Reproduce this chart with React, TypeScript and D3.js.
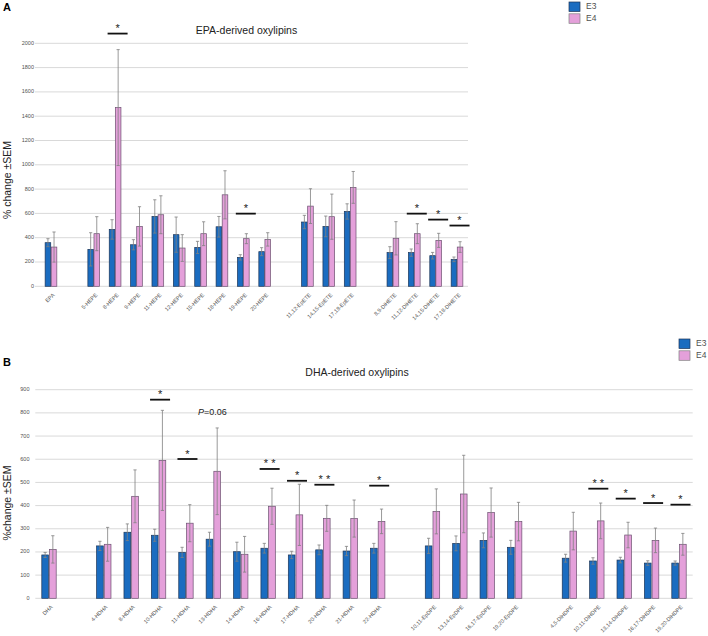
import React from "react";
import * as d3 from "d3";

// ---------- Panel A data (EPA-derived) ----------
const epaCategories = ["EPA", "", "5-HEPE", "8-HEPE", "9-HEPE", "11-HEPE", "12-HEPE", "15-HEPE", "18-HEPE", "19-HEPE", "20-HEPE", "", "11,12-EpETE", "14,15-EpETE", "17,18-EpETE", "", "8,9-DiHETE", "11,12-DiHETE", "14,15-DiHETE", "17,18-DiHETE"];
const epaE3 = [359, null, 304, 468, 342, 575, 425, 320, 490, 238, 285, null, 529, 493, 616, null, 277, 277, 252, 222];
const epaE3Sem = [33, null, 137, 80, 42, 137, 145, 50, 85, 22, 33, null, 55, 85, 63, null, 49, 30, 27, 19];
const epaE4 = [323, null, 433, 1471, 493, 589, 315, 433, 753, 392, 386, null, 660, 573, 814, null, 395, 433, 378, 323];
const epaE4Sem = [124, null, 140, 477, 162, 156, 110, 98, 198, 41, 55, null, 143, 186, 131, null, 137, 82, 58, 44];
const epaTicks = [0, 200, 400, 600, 800, 1000, 1200, 1400, 1600, 1800, 2000];
const epaSig = [
  { cat: "8-HEPE", level: 2080, label: "*" },
  { cat: "19-HEPE", level: 598, label: "*" },
  { cat: "11,12-DiHETE", level: 598, label: "*" },
  { cat: "14,15-DiHETE", level: 549, label: "*" },
  { cat: "17,18-DiHETE", level: 500, label: "*" },
];

// ---------- Panel B data (DHA-derived) ----------
const dhaCategories = ["DHA", "", "4-HDHA", "8-HDHA", "10-HDHA", "11-HDHA", "13-HDHA", "14-HDHA", "16-HDHA", "17-HDHA", "20-HDHA", "21-HDHA", "22-HDHA", "", "10,11-EpDPE", "13,14-EpDPE", "16,17-EpDPE", "19,20-EpDPE", "", "4,5-DiHDPE", "10,11-DiHDPE", "13,14-DiHDPE", "16,17-DiHDPE", "19,20-DiHDPE"];
const dhaE3 = [187, null, 226, 285, 272, 198, 255, 201, 216, 187, 209, 204, 216, null, 226, 237, 250, 220, null, 173, 161, 165, 152, 152];
const dhaE3Sem = [11, null, 20, 36, 26, 22, 30, 41, 21, 16, 21, 20, 21, null, 33, 32, 32, 30, null, 17, 14, 12, 10, 9];
const dhaE4 = [211, null, 233, 440, 595, 324, 548, 190, 397, 360, 345, 344, 332, null, 375, 450, 370, 331, null, 290, 334, 273, 250, 233];
const dhaE4Sem = [59, null, 73, 114, 216, 80, 187, 77, 78, 132, 56, 80, 53, null, 97, 167, 106, 83, null, 81, 77, 55, 53, 47];
const dhaTicks = [0, 100, 200, 300, 400, 500, 600, 700, 800, 900];
const dhaSig = [
  { cat: "10-HDHA", level: 857, label: "*" },
  { cat: "11-HDHA", level: 601, label: "*" },
  { cat: "16-HDHA", level: 558, label: "**" },
  { cat: "17-HDHA", level: 507, label: "*" },
  { cat: "20-HDHA", level: 490, label: "**" },
  { cat: "22-HDHA", level: 486, label: "*" },
  { cat: "10,11-DiHDPE", level: 473, label: "**" },
  { cat: "13,14-DiHDPE", level: 430, label: "*" },
  { cat: "16,17-DiHDPE", level: 411, label: "*" },
  { cat: "19,20-DiHDPE", level: 404, label: "*" },
];
const dhaNote = { cat: "13-HDHA", level: 800, text: "=0.06" };

const seriesNames = ["E3", "E4"];

const BLUE = "#1A6CC0";
const BLUE_STROKE = "#1d3557";
const PINK = "#E4A0DA";
const PINK_STROKE = "#6b5070";
const GRID = "#d9d9d9";
const TXT = "#505050";
const FONT = "Liberation Sans, Arial, sans-serif";

type PanelProps = {
  letter: string;
  letterY: number;
  title: string;
  titleX: number;
  titleY: number;
  yTitle: string;
  yTitleY: number;
  categories: string[];
  e3: (number | null)[];
  e3Sem: (number | null)[];
  e4: (number | null)[];
  e4Sem: (number | null)[];
  ticks: number[];
  yDomain: [number, number];
  yRange: [number, number];
  xRange: [number, number];
  gridX: [number, number];
  tickLabelX: number;
  barW: number;
  barGap: number;
  sig: { cat: string; level: number; label: string }[];
  sigDx: number;
  legendX: number;
  legendY: number;
};

function Panel(p: PanelProps) {
  const idx = p.categories.map((_, i) => String(i));
  const x = d3.scaleBand<string>().domain(idx).range(p.xRange).padding(0);
  const y = d3.scaleLinear().domain(p.yDomain).range(p.yRange);
  const cx = (i: number) => (x(String(i)) as number) + x.bandwidth() / 2;
  const y0 = y(0);
  const cap = 1.6;

  const errBar = (xc: number, v: number, s: number, key: string) => (
    <g key={key} stroke="#808080" strokeWidth={0.8}>
      <line x1={xc} x2={xc} y1={y(v - s)} y2={y(v + s)} />
      <line x1={xc - cap} x2={xc + cap} y1={y(v + s)} y2={y(v + s)} />
      <line x1={xc - cap} x2={xc + cap} y1={y(v - s)} y2={y(v - s)} />
    </g>
  );

  return (
    <g fontFamily={FONT}>
      <text x={3} y={p.letterY} fontSize={11} fontWeight="bold" fill="#000">{p.letter}</text>
      <text x={p.titleX} y={p.titleY} fontSize={10.5} fill="#222" textAnchor="middle" dominantBaseline="middle">{p.title}</text>
      <text transform={`translate(11,${p.yTitleY}) rotate(-90)`} fontSize={10.5} fill="#222" textAnchor="middle">{p.yTitle}</text>
      {p.ticks.map((t) => (
        <g key={"t" + t}>
          <line x1={p.gridX[0]} x2={p.gridX[1]} y1={y(t)} y2={y(t)} stroke={GRID} strokeWidth={1} />
          <text x={p.tickLabelX} y={y(t)} fontSize={5.5} fill={TXT} textAnchor="end" dominantBaseline="middle">{t}</text>
        </g>
      ))}
      {p.categories.map((c, i) => {
        const a = p.e3[i];
        const b = p.e4[i];
        if (a == null || b == null) return null;
        const xc = cx(i);
        const xb = xc - p.barGap / 2 - p.barW;
        const xp = xc + p.barGap / 2;
        return (
          <g key={"c" + i}>
            <rect x={xb} y={y(a)} width={p.barW} height={y0 - y(a)} fill={BLUE} stroke={BLUE_STROKE} strokeWidth={0.7} />
            <rect x={xp} y={y(b)} width={p.barW} height={y0 - y(b)} fill={PINK} stroke={PINK_STROKE} strokeWidth={0.7} />
            {errBar(xb + p.barW / 2, a, p.e3Sem[i] as number, "ea" + i)}
            {errBar(xp + p.barW / 2, b, p.e4Sem[i] as number, "eb" + i)}
          </g>
        );
      })}
      {p.categories.map((c, i) =>
        c ? (
          <text key={"l" + i} transform={`translate(${cx(i) + 3},${y0 + 8}) rotate(-45)`} fontSize={5.5} fill={TXT} textAnchor="end" dominantBaseline="middle">{c}</text>
        ) : null
      )}
      {p.sig.map((s, k) => {
        const i = p.categories.indexOf(s.cat);
        const xc = cx(i) + p.sigDx;
        return (
          <g key={"s" + k}>
            <line x1={xc - 10} x2={xc + 10} y1={y(s.level)} y2={y(s.level)} stroke="#111" strokeWidth={1.8} />
            <text x={xc} y={y(s.level) - 1.5} fontSize={11} fill="#222" textAnchor="middle">{s.label.split("").join(" ")}</text>
          </g>
        );
      })}
      {seriesNames.map((n, k) => (
        <g key={"lg" + n} transform={`translate(${p.legendX},${p.legendY + k * 11.8})`}>
          <rect x={0} y={0} width={11} height={9.5} fill={k === 0 ? BLUE : PINK} stroke={k === 0 ? BLUE_STROKE : "#808080"} strokeWidth={0.7} />
          <text x={17} y={5} fontSize={8.5} fill={TXT} dominantBaseline="middle">{n}</text>
        </g>
      ))}
    </g>
  );
}

export default function App() {
  const bx = d3.scaleBand<string>().domain(dhaCategories.map((_, i) => String(i))).range([35.3, 692.7]);
  const by = d3.scaleLinear().domain([0, 900]).range([598.3, 389.7]);
  const ni = dhaCategories.indexOf(dhaNote.cat);
  const noteX = (bx(String(ni)) as number) + bx.bandwidth() / 2;
  return (
    <svg width={708} height={636} style={{ position: "absolute", left: 0, top: 0, background: "#fff" }}>
      <rect width={708} height={636} fill="#fff" />
      <Panel
        letter="A" letterY={11}
        title="EPA-derived oxylipins" titleX={246.5} titleY={31}
        yTitle="% change ±SEM" yTitleY={180}
        categories={epaCategories} e3={epaE3} e3Sem={epaE3Sem} e4={epaE4} e4Sem={epaE4Sem}
        ticks={epaTicks} yDomain={[0, 2000]} yRange={[286.3, 43.3]}
        xRange={[40.3, 467.7]} gridX={[35, 468]} tickLabelX={34}
        barW={5.6} barGap={0.5}
        sig={epaSig} sigDx={2.5}
        legendX={569} legendY={2}
      />
      <Panel
        letter="B" letterY={366}
        title="DHA-derived oxylipins" titleX={357} titleY={373}
        yTitle="%change ±SEM" yTitleY={503}
        categories={dhaCategories} e3={dhaE3} e3Sem={dhaE3Sem} e4={dhaE4} e4Sem={dhaE4Sem}
        ticks={dhaTicks} yDomain={[0, 900]} yRange={[598.3, 389.7]}
        xRange={[35.3, 692.7]} gridX={[35.3, 692.7]} tickLabelX={29.5}
        barW={6.7} barGap={1}
        sig={dhaSig} sigDx={1.5}
        legendX={679} legendY={339}
      />
      <text x={noteX - 1} y={by(dhaNote.level)} fontSize={9} fill="#222" fontFamily={FONT} textAnchor="middle" dominantBaseline="middle">
        <tspan fontStyle="italic">P</tspan>{dhaNote.text}
      </text>
    </svg>
  );
}
